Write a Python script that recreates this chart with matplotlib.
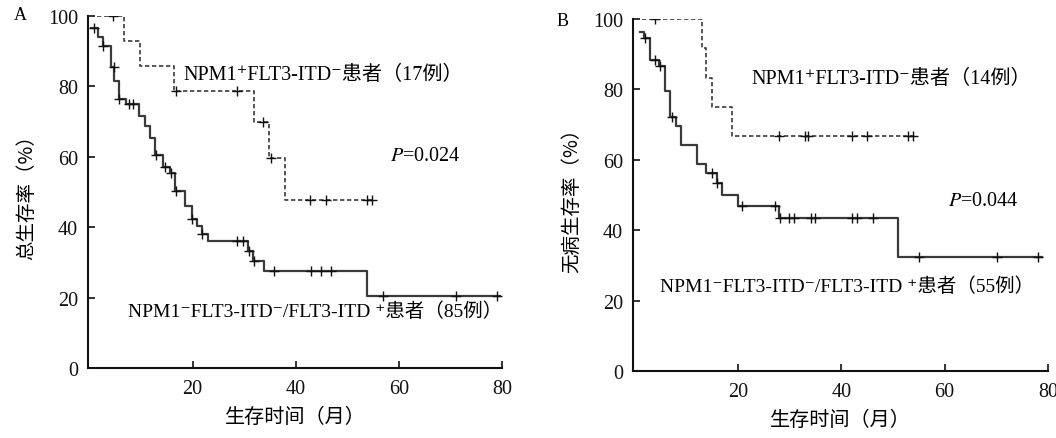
import numpy as np
import matplotlib
matplotlib.use("Agg")
import matplotlib.pyplot as plt

plt.rcParams['mathtext.fontset'] = 'stix'

# ---------------- data ----------------
# Panel A : overall survival
a_solid_t = [0.3, 1.7, 2.6, 4.2, 4.8, 5.7, 7.0, 9.65, 10.8, 11.8, 12.7, 14.2, 15.7, 16.6,
             18.6, 19.8, 20.8, 21.8, 22.9, 30.8, 31.8, 33.9, 53.9, 79.7]
a_solid_s = [96.4, 93.9, 91.5, 85.4, 81.6, 76.4, 74.9, 71.5, 68.6, 65.2, 60.5, 57.0, 55.4, 50.1,
             45.9, 42.3, 40.2, 38.0, 36.0, 33.3, 30.5, 27.6, 20.5, 20.5]
a_solid_cens = [0.8, 2.7, 4.7, 5.8, 7.75, 8.5, 12.8, 14.7, 15.8, 16.7, 19.9, 21.9, 28.7, 29.7,
                30.9, 31.9, 35.8, 42.9, 44.9, 46.8, 57.0, 71.0, 79.0]

a_dash_t = [0, 6.6, 9.8, 16.4, 31.9, 34.8, 37.95, 55.4]
a_dash_s = [100, 92.9, 85.7, 78.5, 69.8, 59.7, 47.8, 47.8]
a_dash_cens = [4.6, 16.8, 28.7, 33.7, 35.1, 42.8, 45.8, 53.9, 54.7]

# Panel B : disease-free survival
b_solid_t = [1.0, 1.85, 3.0, 4.7, 5.9, 6.9, 8.0, 9.0, 12.0, 13.9, 15.9, 17.0, 20.1, 27.95, 51.0, 78.9]
b_solid_s = [96.2, 94.5, 88.3, 86.7, 79.5, 72.1, 69.5, 64.2, 58.8, 56.3, 53.3, 50.1, 47.0, 43.4, 32.5, 32.5]
b_solid_cens = [2.1, 3.9, 4.9, 7.2, 14.9, 16.0, 20.8, 27.1, 28.1, 29.9, 30.9, 34.1, 34.9,
                42.0, 43.0, 46.1, 55.1, 70.1, 78.1]

b_dash_t = [0, 13.0, 13.9, 15.0, 18.9, 54.3]
b_dash_s = [100, 91.7, 83.2, 75.0, 66.8, 66.8]
b_dash_cens = [3.9, 28.0, 33.0, 33.6, 42.0, 44.9, 53.0, 53.9]

x_ticks = [20, 40, 60, 80]
y_ticks = [0, 20, 40, 60, 80, 100]

panel_letters = ['A', 'B']
y_labels = ['总生存率（%）', '无病生存率（%）']
x_label = '生存时间（月）'
top_labels = ['NPM1⁺FLT3-ITD⁻患者（17例）', 'NPM1⁺FLT3-ITD⁻患者（14例）']
bottom_labels = ['NPM1⁻FLT3-ITD⁻/FLT3-ITD ⁺患者（85例）', 'NPM1⁻FLT3-ITD⁻/FLT3-ITD ⁺患者（55例）']
p_values = ['0.024', '0.044']

# ---------------- drawing ----------------
SERIF = 'Liberation Serif'
MIX = ['Liberation Serif', 'DejaVu Serif', 'Noto Sans CJK SC']
CJK = ['Noto Sans CJK SC', 'DejaVu Sans']

fig = plt.figure(figsize=(10.56, 4.39), dpi=100)
axA = fig.add_axes([0.0833, 0.1595, 0.3921, 0.8025])
axB = fig.add_axes([0.5994, 0.1526, 0.3930, 0.8018])


def step_value(t, s, x):
    i = np.searchsorted(np.asarray(t), x, side='right') - 1
    return np.asarray(s)[max(i, 0)]


def draw_curve(ax, t, s, cens, dashed):
    if dashed:
        ax.step(t, s, where='post', color='#3a3a3a', lw=1.2, linestyle=(0, (2.6, 1.6)))
    else:
        ax.step(t, s, where='post', color='#3a3a3a', lw=1.6)
    cy = [step_value(t, s, c) for c in cens]
    ax.plot(cens, cy, linestyle='none', marker='+', ms=7, mew=1.0, color='#111111')


panels = [
    (axA, a_solid_t, a_solid_s, a_solid_cens, a_dash_t, a_dash_s, a_dash_cens,
     (18.2, 83.2), (58.3, 60.3), (7.4, 16.3)),
    (axB, b_solid_t, b_solid_s, b_solid_cens, b_dash_t, b_dash_s, b_dash_cens,
     (22.7, 83.0), (60.7, 48.4), (4.9, 24.2)),
]

for k, (ax, st, ss, sc, dt, ds, dc, top_xy, p_xy, bot_xy) in enumerate(panels):
    draw_curve(ax, dt, ds, dc, True)
    draw_curve(ax, st, ss, sc, False)
    ax.set_xlim(-0.3, 80)
    ax.set_ylim(0, 100)
    ax.spines['top'].set_visible(False)
    ax.spines['right'].set_visible(False)
    for sp in ('left', 'bottom'):
        ax.spines[sp].set_linewidth(1.5)
        ax.spines[sp].set_color('#111111')
    ax.set_xticks(x_ticks)
    ax.set_yticks(y_ticks)
    ax.tick_params(direction='in', length=5, width=1.2, colors='#111111', labelsize=14.5)
    ax.tick_params(axis='x', pad=8)
    ax.tick_params(axis='y', pad=7)
    for lab in ax.get_xticklabels() + ax.get_yticklabels():
        lab.set_fontfamily(SERIF)
    ax.set_xlabel(x_label, fontfamily=CJK, fontsize=14.5, labelpad=6)
    ax.set_ylabel(y_labels[k], fontfamily=CJK, fontsize=14, labelpad=8)
    ax.text(top_xy[0], top_xy[1], top_labels[k], fontfamily=MIX, fontsize=14.5,
            va='center', ha='left')
    ax.text(bot_xy[0], bot_xy[1], bottom_labels[k], fontfamily=MIX, fontsize=14,
            va='center', ha='left')
    ax.text(p_xy[0], p_xy[1], '$P$=' + p_values[k], fontfamily=SERIF, fontsize=14.5,
            va='center', ha='left')

fig.text(14 / 1056, 1 - 16 / 439, panel_letters[0], fontfamily=SERIF, fontsize=13,
         va='center', ha='left')
fig.text(557 / 1056, 1 - 22 / 439, panel_letters[1], fontfamily=SERIF, fontsize=13,
         va='center', ha='left')

fig.savefig('out.png', dpi=100)
